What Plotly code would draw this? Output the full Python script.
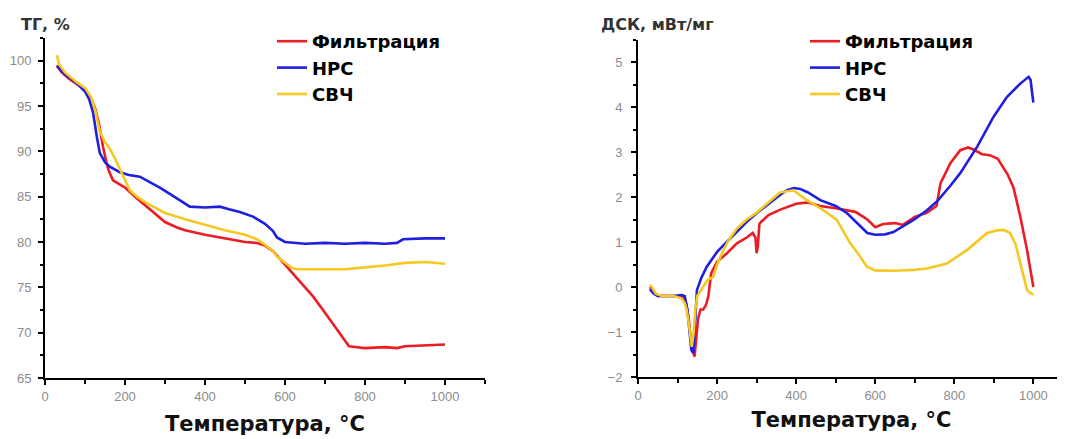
import plotly.graph_objects as go

# ---------------- TG data (left panel) ----------------
tg_filt_t = [30, 40, 60, 80, 100, 115, 125, 135, 145, 155, 160, 170, 185, 200, 225, 250, 275, 300,
             330, 350, 400, 450, 500, 530, 550, 570, 590, 610, 640, 670, 700, 730, 750, 760, 780,
             800, 850, 880, 900, 950, 1000]
tg_filt_v = [99.5, 98.8, 98.0, 97.4, 96.8, 95.8, 94.8, 93.0, 90.5, 88.5, 87.8, 86.8, 86.4, 86.0, 85.0,
             84.1, 83.1, 82.2, 81.6, 81.3, 80.8, 80.4, 80.0, 79.9, 79.6, 79.0, 78.0, 77.0, 75.6, 74.0,
             72.2, 70.3, 69.0, 68.5, 68.4, 68.3, 68.4, 68.3, 68.5, 68.6, 68.7]

tg_nrs_t = [30, 50, 80, 100, 110, 120, 130, 137, 150, 162, 187, 210, 237, 262, 287, 312, 337, 362,
            400, 437, 460, 487, 520, 550, 570, 580, 600, 650, 700, 750, 800, 850, 880, 895, 950, 1000]
tg_nrs_v = [99.4, 98.5, 97.5, 96.6, 95.8, 94.3, 91.5, 89.8, 88.8, 88.3, 87.7, 87.4, 87.2, 86.6, 86.0,
            85.3, 84.6, 83.9, 83.8, 83.9, 83.6, 83.3, 82.8, 82.0, 81.2, 80.5, 80.0, 79.8, 79.9, 79.8,
            79.9, 79.8, 79.9, 80.3, 80.4, 80.4]

tg_svch_t = [30, 35, 50, 80, 100, 115, 125, 137, 150, 162, 175, 187, 200, 212, 230, 250, 275, 300,
             350, 400, 450, 500, 530, 550, 570, 580, 600, 615, 630, 700, 750, 800, 850, 900, 950, 1000]
tg_svch_v = [100.6, 99.6, 98.7, 97.6, 97.0, 96.0, 94.6, 92.2, 91.0, 90.3, 89.2, 88.0, 86.8, 85.7, 85.0,
             84.4, 83.8, 83.2, 82.5, 81.9, 81.3, 80.8, 80.3, 79.7, 79.0, 78.4, 77.7, 77.2, 77.0, 77.0,
             77.0, 77.2, 77.4, 77.7, 77.8, 77.6]

# ---------------- DSC data (right panel) ----------------
dsc_filt_t = [30, 40, 50, 70, 90, 110, 120, 128, 133, 138, 143, 147, 152, 158, 165, 172, 178, 185, 200,
              225, 250, 275, 290, 297, 300, 303, 307, 312, 330, 360, 400, 430, 460, 500, 550, 580, 600,
              620, 650, 670, 700, 730, 755, 765, 790, 815, 835, 850, 870, 890, 910, 935, 950, 967, 984, 1000]
dsc_filt_v = [0.0, -0.1, -0.2, -0.2, -0.2, -0.2, -0.3, -0.7, -1.1, -1.4, -1.55, -1.2, -0.7, -0.5, -0.5,
              -0.4, -0.2, 0.3, 0.56, 0.75, 0.97, 1.1, 1.2, 1.1, 0.75, 0.9, 1.4, 1.45, 1.6, 1.72, 1.85,
              1.88, 1.8, 1.75, 1.67, 1.5, 1.33, 1.4, 1.42, 1.38, 1.56, 1.65, 1.8, 2.3, 2.75, 3.04, 3.1,
              3.05, 2.95, 2.93, 2.85, 2.5, 2.2, 1.56, 0.82, 0.0]

dsc_nrs_t = [30, 40, 50, 70, 90, 110, 118, 125, 130, 135, 140, 145, 149, 160, 174, 200, 225, 250, 275,
             300, 330, 360, 377, 395, 410, 430, 461, 500, 529, 562, 580, 600, 625, 646, 670, 697, 730,
             756, 790, 815, 858, 899, 933, 967, 988, 993, 997, 1000]
dsc_nrs_v = [-0.05, -0.15, -0.2, -0.2, -0.2, -0.18, -0.2, -0.5, -0.9, -1.4, -1.47, -0.8, -0.07, 0.2,
             0.45, 0.78, 1.0, 1.22, 1.45, 1.64, 1.85, 2.05, 2.15, 2.2, 2.18, 2.1, 1.93, 1.8, 1.64, 1.34,
             1.2, 1.16, 1.17, 1.22, 1.35, 1.49, 1.7, 1.9, 2.25, 2.53, 3.12, 3.78, 4.22, 4.52, 4.67, 4.6,
             4.3, 4.1]

dsc_svch_t = [30, 35, 45, 60, 90, 110, 118, 123, 130, 136, 141, 145, 150, 160, 175, 185, 190, 200, 215,
              230, 250, 275, 300, 326, 359, 393, 427, 443, 470, 503, 536, 560, 579, 600, 646, 700, 731,
              781, 832, 883, 910, 925, 941, 955, 967, 984, 1000]
dsc_svch_v = [0.05, 0.0, -0.15, -0.2, -0.2, -0.25, -0.35, -0.5, -0.9, -1.33, -1.0, -0.5, -0.2, -0.05,
              0.15, 0.2, 0.22, 0.5, 0.8, 1.05, 1.3, 1.5, 1.65, 1.85, 2.1, 2.15, 1.93, 1.85, 1.7, 1.49,
              0.98, 0.7, 0.45, 0.37, 0.36, 0.38, 0.41, 0.52, 0.82, 1.2, 1.26, 1.27, 1.2, 0.95, 0.53,
              -0.07, -0.18]

series_names = ["Фильтрация", "НРС", "СВЧ"]
series_colors = ["#ec1c24", "#1f1fe0", "#f6c823"]

x_title = "Температура, °C"
tg_label = "ТГ, %"
dsc_label = "ДСК, мВт/мг"

# page body has an 8px default margin; the figure fills the rest of the window
OFF = 8
W, H = 1065 - OFF, 439 - OFF


def px(x):
    return (x - OFF) / W


def py(y):
    return 1 - (y - OFF) / H


fig = go.Figure()

tg_sets = [(tg_filt_t, tg_filt_v), (tg_nrs_t, tg_nrs_v), (tg_svch_t, tg_svch_v)]
dsc_sets = [(dsc_filt_t, dsc_filt_v), (dsc_nrs_t, dsc_nrs_v), (dsc_svch_t, dsc_svch_v)]

for (t, v), name, col in zip(tg_sets, series_names, series_colors):
    fig.add_trace(go.Scatter(x=t, y=v, mode="lines", name=name,
                             line=dict(color=col, width=2.6),
                             xaxis="x", yaxis="y", legend="legend"))
for (t, v), name, col in zip(dsc_sets, series_names, series_colors):
    fig.add_trace(go.Scatter(x=t, y=v, mode="lines", name=name,
                             line=dict(color=col, width=2.6),
                             xaxis="x2", yaxis="y2", legend="legend2"))

tickfont = dict(family="Liberation Sans", size=13, color="#8c8c8c")
axis_common = dict(showline=True, linecolor="black", linewidth=2, showgrid=False, zeroline=False,
                   ticks="outside", ticklen=5, tickwidth=1.5, tickcolor="black", tickfont=tickfont,
                   automargin=False)
title_font = dict(family="DejaVu Sans", size=21, color="#111111", weight="bold")
legend_font = dict(family="DejaVu Sans", size=18, color="black", weight="bold")
label_font = dict(family="DejaVu Sans", size=16, color="#333333", weight="bold")

fig.update_layout(
    width=W, height=H,
    margin=dict(l=0, r=0, t=0, b=0, autoexpand=False),
    paper_bgcolor="white", plot_bgcolor="white",
    xaxis=dict(domain=[px(45), px(485)], range=[0, 1100], dtick=200, tick0=0,
               minor=dict(dtick=100, ticks="outside", ticklen=4, tickcolor="black"),
               title=dict(text=x_title, font=title_font, standoff=14),
               anchor="y", **axis_common),
    yaxis=dict(domain=[py(378), py(38)], range=[65, 102.5], dtick=5, tick0=65,
               minor=dict(dtick=2.5, ticks="outside", ticklen=3, tickcolor="black"),
               ticklabelstandoff=4,
               anchor="x", **axis_common),
    xaxis2=dict(domain=[px(638), 1.0], range=[0, 1080], dtick=200, tick0=0,
                minor=dict(dtick=100, ticks="outside", ticklen=4, tickcolor="black"),
                title=dict(text=x_title, font=title_font, standoff=11),
                anchor="y2", **axis_common),
    yaxis2=dict(domain=[py(377), py(39.5)], range=[-2, 5.5], dtick=1, tick0=-2,
                minor=dict(dtick=0.5, ticks="outside", ticklen=3, tickcolor="black"),
                ticklabelstandoff=6,
                anchor="x2", **axis_common),
    legend=dict(x=(312 - 40 - OFF) / W, y=py(23), xanchor="left", yanchor="top",
                bgcolor="rgba(0,0,0,0)", font=legend_font),
    legend2=dict(x=(845 - 40 - OFF) / W, y=py(23), xanchor="left", yanchor="top",
                 bgcolor="rgba(0,0,0,0)", font=legend_font),
    annotations=[
        dict(text=tg_label, x=px(19), y=py(25), xref="paper", yref="paper",
             xanchor="left", yanchor="middle", showarrow=False, font=label_font),
        dict(text=dsc_label, x=px(599), y=py(25), xref="paper", yref="paper",
             xanchor="left", yanchor="middle", showarrow=False, font=label_font),
    ],
)

fig.write_html("out.html")
